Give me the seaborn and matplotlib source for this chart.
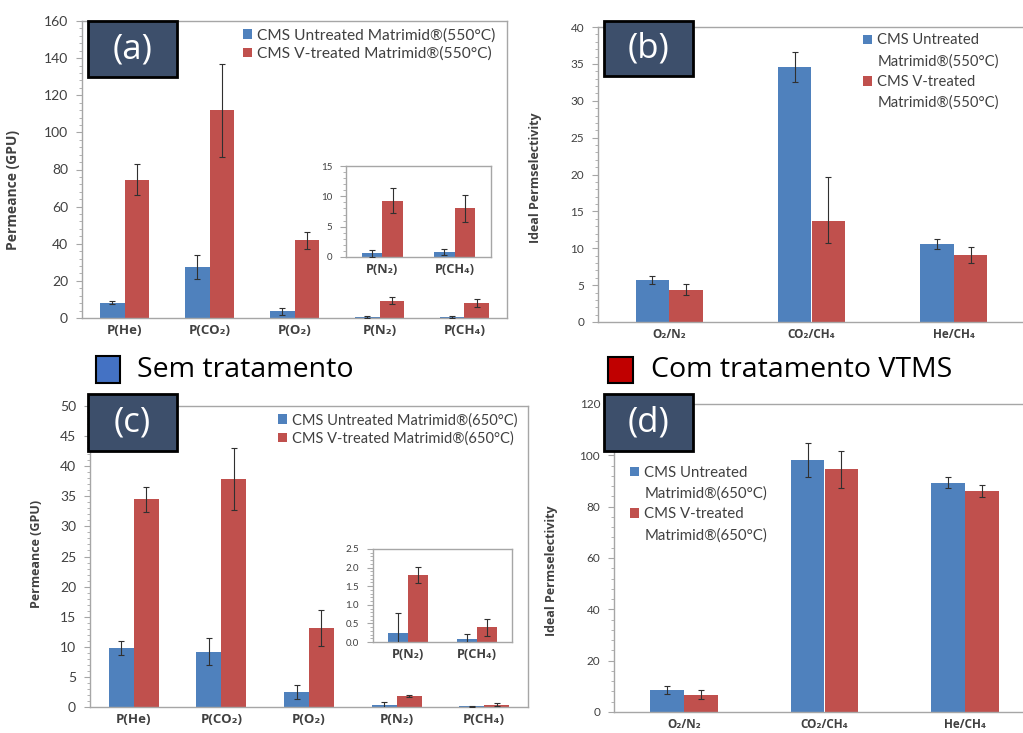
import matplotlib
matplotlib.use("Agg")
import matplotlib.pyplot as plt
import seaborn as sns
import pandas as pd
from matplotlib.ticker import MultipleLocator, AutoMinorLocator
from matplotlib.patches import Rectangle

# ---------------- data ----------------
gases_perm = ["P(He)", "P(CO₂)", "P(O₂)", "P(N₂)", "P(CH₄)"]
inset_gases = ["P(N₂)", "P(CH₄)"]
pairs_sel = ["O₂/N₂", "CO₂/CH₄", "He/CH₄"]

a_untreated = [8.3, 27.3, 3.6, 0.6, 0.75]
a_untreated_err = [0.6, 6.4, 1.8, 0.6, 0.5]
a_treated = [74.5, 112.0, 41.8, 9.3, 8.0]
a_treated_err = [8.5, 25.0, 4.4, 2.0, 2.2]

b_untreated = [5.7, 34.6, 10.6]
b_untreated_err = [0.6, 2.0, 0.7]
b_treated = [4.4, 13.7, 9.1]
b_treated_err_low = [0.8, 3.0, 1.1]
b_treated_err_high = [0.8, 6.0, 1.1]

c_untreated = [9.8, 9.2, 2.5, 0.25, 0.09]
c_untreated_err = [1.2, 2.2, 1.2, 0.53, 0.12]
c_treated = [34.5, 37.9, 13.1, 1.8, 0.39]
c_treated_err = [2.1, 5.1, 3.0, 0.22, 0.22]

d_untreated = [8.7, 98.2, 89.4]
d_untreated_err = [1.5, 6.5, 2.3]
d_treated = [6.7, 94.6, 86.1]
d_treated_err = [1.7, 7.2, 2.4]

labels_550 = ["CMS Untreated Matrimid®(550°C)", "CMS V-treated Matrimid®(550°C)"]
labels_550_split = [("CMS Untreated", "Matrimid®(550°C)"), ("CMS V-treated", "Matrimid®(550°C)")]
labels_650 = ["CMS Untreated Matrimid®(650°C)", "CMS V-treated Matrimid®(650°C)"]
labels_650_split = [("CMS Untreated", "Matrimid®(650°C)"), ("CMS V-treated", "Matrimid®(650°C)")]
panel_tags = ["(a)", "(b)", "(c)", "(d)"]
legend_texts = ["Sem tratamento", "Com tratamento VTMS"]

# ---------------- style ----------------
sns.set_style("white")
plt.rcParams["font.family"] = ["Lato", "DejaVu Sans"]
BOLD_FAM = ["Open Sans", "DejaVu Sans"]
BLUE = "#4F81BD"
RED = "#C0504D"
TXT = "#404040"
SPINE = "#A6A6A6"

W, H = 1023, 733
fig = plt.figure(figsize=(W / 100, H / 100), dpi=100)


def rect(x0, y0, x1, y1):
    """pixel box (top-left origin) -> figure fraction [l, b, w, h]"""
    return [x0 / W, 1 - y1 / H, (x1 - x0) / W, (y1 - y0) / H]


def draw(ax, cats, unt, tre, unt_err, tre_lo, tre_hi, width, ymax, major, ytick_fs, xtick_fs):
    df = pd.DataFrame({
        "cat": cats * 2,
        "val": list(unt) + list(tre),
        "grp": ["Untreated"] * len(cats) + ["V-treated"] * len(cats),
    })
    sns.barplot(data=df, x="cat", y="val", hue="grp", order=cats,
                hue_order=["Untreated", "V-treated"], palette=[BLUE, RED],
                width=width, errorbar=None, saturation=1, linewidth=0, ax=ax)
    errs = [(unt_err, unt_err), (tre_lo, tre_hi)]
    for cont, (lo, hi) in zip(ax.containers, errs):
        xs = [b.get_x() + b.get_width() / 2 for b in cont]
        ys = [b.get_height() for b in cont]
        ax.errorbar(xs, ys, yerr=[lo, hi], fmt="none", ecolor="#303030",
                    elinewidth=0.8, capsize=2.5, capthick=0.8, zorder=5)
    ax.set_xlim(-0.5, len(cats) - 0.5)
    ax.set_ylim(0, ymax)
    ax.set_xticks(range(len(cats)), cats, fontweight="bold", fontsize=xtick_fs,
                  color=TXT, family=BOLD_FAM)
    ax.yaxis.set_major_locator(MultipleLocator(major))
    ax.yaxis.set_minor_locator(AutoMinorLocator(5))
    ax.set_xlabel("")
    ax.set_ylabel("")
    ax.tick_params(axis="y", which="major", left=True, length=4, width=0.8,
                   color=SPINE, labelsize=ytick_fs, labelcolor="#404040", pad=6)
    ax.tick_params(axis="y", which="minor", left=True, length=2.5, width=0.6, color=SPINE)
    ax.tick_params(axis="x", length=0, pad=4)
    for s in ax.spines.values():
        s.set_color(SPINE)
        s.set_linewidth(1.0)
    ax.set_facecolor("white")


def set_legend(ax, labels, anchor, fs, spacing=0.35):
    h, _ = ax.get_legend_handles_labels()
    if ax.get_legend() is not None:
        ax.get_legend().remove()
    ax.legend(h, labels, loc="upper left", bbox_to_anchor=anchor, frameon=False,
              fontsize=fs, handlelength=0.6, handleheight=0.6, handletextpad=0.35,
              labelspacing=spacing, borderpad=0, borderaxespad=0, labelcolor=TXT)


def set_split_legend(ax, split_labels, anchor, fs, spacing=0.45):
    h, _ = ax.get_legend_handles_labels()
    if ax.get_legend() is not None:
        ax.get_legend().remove()
    handles, labels = [], []
    for hh, (l1, l2) in zip(h, split_labels):
        blank = Rectangle((0, 0), 1, 1, fill=False, edgecolor="none", linewidth=0)
        handles += [hh, blank]
        labels += [l1, l2]
    ax.legend(handles, labels, loc="upper left", bbox_to_anchor=anchor, frameon=False,
              fontsize=fs, handlelength=0.6, handleheight=0.6, handletextpad=0.35,
              labelspacing=spacing, borderpad=0, borderaxespad=0, labelcolor=TXT)


# ---- panel (a)
ax_a = fig.add_axes(rect(82, 21, 507, 318))
draw(ax_a, gases_perm, a_untreated, a_treated, a_untreated_err, a_treated_err,
     a_treated_err, 0.58, 160, 20, 10, 9.5)
ax_a.set_ylabel("Permeance (GPU)", fontsize=10, fontweight="bold", color=TXT, family=BOLD_FAM)
ax_a.yaxis.set_label_coords(-0.146, 0.43)
set_legend(ax_a, labels_550, (0.378, 0.975), 11.2, 0.25)

ax_ai = fig.add_axes(rect(346, 166, 491, 257))
draw(ax_ai, inset_gases, a_untreated[3:], a_treated[3:], a_untreated_err[3:],
     a_treated_err[3:], a_treated_err[3:], 0.57, 15, 5, 7, 9.2)
ax_ai.get_legend().remove()

# ---- panel (b)
ax_b = fig.add_axes(rect(598, 27, 1025, 322))
draw(ax_b, pairs_sel, b_untreated, b_treated, b_untreated_err, b_treated_err_low,
     b_treated_err_high, 0.47, 40, 5, 8.5, 8.5)
ax_b.spines["right"].set_visible(False)
ax_b.set_ylabel("Ideal Permselectivity", fontsize=9, fontweight="bold", color=TXT, family=BOLD_FAM)
ax_b.yaxis.set_label_coords(-0.132, 0.49)
set_split_legend(ax_b, labels_550_split, (0.621, 0.978), 10.6, 0.45)

# ---- panel (c)
ax_c = fig.add_axes(rect(90, 406, 528, 707))
draw(ax_c, gases_perm, c_untreated, c_treated, c_untreated_err, c_treated_err,
     c_treated_err, 0.57, 50, 5, 10, 9.5)
ax_c.set_ylabel("Permeance (GPU)", fontsize=9, fontweight="bold", color=TXT, family=BOLD_FAM)
ax_c.yaxis.set_label_coords(-0.107, 0.51)
set_legend(ax_c, labels_650, (0.43, 0.977), 10.5, 0.3)

ax_ci = fig.add_axes(rect(373, 549, 512, 642))
draw(ax_ci, inset_gases, c_untreated[3:], c_treated[3:], c_untreated_err[3:],
     c_treated_err[3:], c_treated_err[3:], 0.58, 2.5, 0.5, 7, 9.2)
ax_ci.get_legend().remove()

# ---- panel (d)
ax_d = fig.add_axes(rect(614, 404, 1035, 712))
draw(ax_d, pairs_sel, d_untreated, d_treated, d_untreated_err, d_treated_err,
     d_treated_err, 0.48, 120, 20, 8.5, 8.5)
ax_d.spines["right"].set_visible(False)
ax_d.set_ylabel("Ideal Permselectivity", fontsize=9, fontweight="bold", color=TXT, family=BOLD_FAM)
ax_d.yaxis.set_label_coords(-0.133, 0.458)
set_split_legend(ax_d, labels_650_split, (0.038, 0.80), 10.8, 0.45)

# ---- panel tags
tag_boxes = [(88, 21, 177, 77), (604, 21, 693, 76), (88, 394, 177, 451), (604, 394, 693, 451)]
for tag, (x0, y0, x1, y1) in zip(panel_tags, tag_boxes):
    l, b, w, h = rect(x0, y0, x1, y1)
    fig.add_artist(Rectangle((l, b), w, h, transform=fig.transFigure,
                             facecolor="#3D4F6B", edgecolor="black", linewidth=2, zorder=10))
    fig.text(l + w / 2, b + h / 2, tag, ha="center", va="center", color="white",
             fontsize=25, family=["Open Sans", "DejaVu Sans"], zorder=11)

# ---- shared legend in the middle
for (x0, y0, x1, y1), col, txt, tx in [((96, 356, 120, 383), "#4472C4", legend_texts[0], 137),
                                        ((608, 357, 633, 383), "#C00000", legend_texts[1], 651)]:
    l, b, w, h = rect(x0, y0, x1, y1)
    fig.add_artist(Rectangle((l, b), w, h, transform=fig.transFigure,
                             facecolor=col, edgecolor="black", linewidth=1.5, zorder=10))
    fig.text(tx / W, b + h / 2, txt, ha="left", va="center", color="black",
             fontsize=20.5, family=["Open Sans", "DejaVu Sans"])

fig.savefig("out.png", dpi=100, facecolor="white")
